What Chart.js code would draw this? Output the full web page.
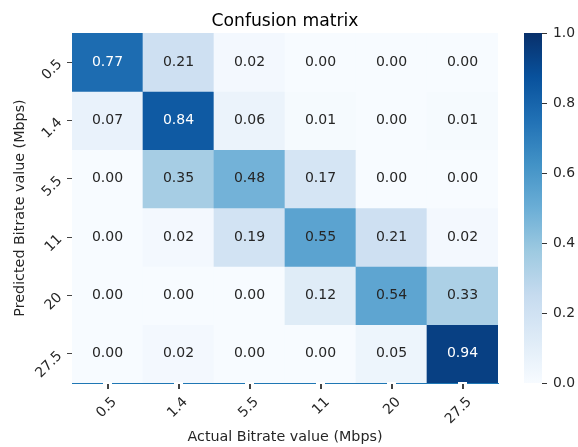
<!DOCTYPE html>
<html>
<head>
<meta charset="utf-8">
<script src="https://cdn.jsdelivr.net/npm/chart.js@4.4.1/dist/chart.umd.min.js"></script>
<style>
  html, body { margin: 0; padding: 0; background: #fff; }
  #wrap { width: 578px; height: 447px; }
</style>
</head>
<body>
<div id="wrap"><canvas id="cm"></canvas></div>
<script>
// labels (Mbps)
const actualLabels = ['0.5', '1.4', '5.5', '11', '20', '27.5'];
const predictedLabels = ['0.5', '1.4', '5.5', '11', '20', '27.5'];

// rows = predicted, columns = actual
const row05  = [0.77, 0.21, 0.02, 0.00, 0.00, 0.00];
const row14  = [0.07, 0.84, 0.06, 0.01, 0.00, 0.01];
const row55  = [0.00, 0.35, 0.48, 0.17, 0.00, 0.00];
const row11  = [0.00, 0.02, 0.19, 0.55, 0.21, 0.02];
const row20  = [0.00, 0.00, 0.00, 0.12, 0.54, 0.33];
const row275 = [0.00, 0.02, 0.00, 0.00, 0.05, 0.94];
const matrix = [row05, row14, row55, row11, row20, row275];

const colorbarTicks = [0, 0.2, 0.4, 0.6, 0.8, 1.0];

// matplotlib "Blues"
const blues = ['#f7fbff', '#deebf7', '#c6dbef', '#9ecae1', '#6baed6', '#4292c6', '#2171b5', '#08519c', '#08306b'];

function hexRgb(h) {
  return [parseInt(h.slice(1, 3), 16), parseInt(h.slice(3, 5), 16), parseInt(h.slice(5, 7), 16)];
}
function bluesRgb(v) {
  v = Math.max(0, Math.min(1, v));
  const p = v * (blues.length - 1);
  const i = Math.min(Math.floor(p), blues.length - 2);
  const t = p - i;
  const a = hexRgb(blues[i]), b = hexRgb(blues[i + 1]);
  return a.map((c, k) => Math.round(c + (b[k] - c) * t));
}
function bluesCss(v) {
  return 'rgb(' + bluesRgb(v).join(',') + ')';
}
// light cells get dark text (HLS lightness)
function textColor(v) {
  const c = bluesRgb(v);
  const l = (Math.max(...c) + Math.min(...c)) / 2 / 255;
  return l > 0.5 ? '#262626' : '#ffffff';
}

const datasets = matrix.map((row, r) => ({
  label: predictedLabels[r],
  data: row.map(() => [r, r + 1]),
  backgroundColor: row.map(v => bluesCss(v)),
  borderWidth: 0,
  grouped: false,
  barPercentage: 1,
  categoryPercentage: 1
}));

const FONT = 'DejaVu Sans';

const overlay = {
  id: 'overlay',
  afterDatasetsDraw(chart) {
    const ctx = chart.ctx;
    const x = chart.scales.x, y = chart.scales.y, cb = chart.scales.cb;
    const area = chart.chartArea;
    ctx.save();
    // cell annotations
    ctx.font = '14px "' + FONT + '"';
    ctx.textAlign = 'center';
    ctx.textBaseline = 'middle';
    matrix.forEach((row, r) => {
      row.forEach((v, c) => {
        ctx.fillStyle = textColor(v);
        ctx.fillText(v.toFixed(2), x.getPixelForValue(c), y.getPixelForValue(r + 0.5));
      });
    });
    // x tick marks (with the little gap in the spine)
    actualLabels.forEach((_, c) => {
      const px = Math.round(x.getPixelForValue(c));
      ctx.fillStyle = '#fff';
      ctx.fillRect(px - 5, area.bottom - 1, 9, 2.5);
      ctx.fillStyle = '#444';
      ctx.fillRect(px - 1, area.bottom + 1, 2, 5);
    });
    // colorbar
    const cbLeft = 524, cbRight = 542;
    const top = cb.getPixelForValue(1), bot = cb.getPixelForValue(0);
    const g = ctx.createLinearGradient(0, bot, 0, top);
    blues.forEach((c, i) => g.addColorStop(i / (blues.length - 1), c));
    ctx.fillStyle = g;
    ctx.fillRect(cbLeft, top, cbRight - cbLeft, bot - top);
    ctx.strokeStyle = '#333';
    ctx.lineWidth = 1;
    colorbarTicks.forEach(t => {
      const py = Math.round(cb.getPixelForValue(t)) + 0.5;
      ctx.beginPath();
      ctx.moveTo(cbRight, py);
      ctx.lineTo(cbRight + 5, py);
      ctx.stroke();
    });
    // title
    ctx.fillStyle = '#000';
    ctx.font = '17.2px "' + FONT + '"';
    ctx.textAlign = 'center';
    ctx.textBaseline = 'alphabetic';
    ctx.fillText('Confusion matrix', (area.left + area.right) / 2, 26);
    ctx.restore();
  }
};

new Chart(document.getElementById('cm'), {
  type: 'bar',
  data: { labels: actualLabels, datasets: datasets },
  plugins: [overlay],
  options: {
    responsive: true,
    maintainAspectRatio: false,
    animation: false,
    layout: { padding: { top: 33, left: 0, right: 0, bottom: 0 } },
    plugins: {
      legend: { display: false },
      tooltip: { enabled: false },
      title: { display: false }
    },
    scales: {
      x: {
        type: 'category',
        offset: true,
        grid: { display: false, drawTicks: true, tickLength: 6, offset: false },
        border: { display: true, color: '#1f77b4', width: 1 },
        ticks: { color: '#262626', font: { family: FONT, size: 13.9 }, minRotation: 45, maxRotation: 45, padding: 5, labelOffset: 7 },
        title: { display: true, text: 'Actual Bitrate value (Mbps)', color: '#262626', font: { family: FONT, size: 14.3 }, padding: { top: 0, bottom: 1 } },
        afterFit: s => { s.height = 64; }
      },
      y: {
        type: 'linear',
        min: 0,
        max: 6,
        reverse: true,
        afterBuildTicks: s => { s.ticks = predictedLabels.map((_, i) => ({ value: i + 0.5 })); },
        grid: { display: true, drawOnChartArea: false, drawTicks: true, tickLength: 5, color: '#444' },
        border: { display: true, color: '#1f77b4', width: 1 },
        ticks: { color: '#262626', font: { family: FONT, size: 13.9 }, minRotation: 45, maxRotation: 45, padding: 7,
          callback: (v, i) => predictedLabels[i] },
        title: { display: true, text: 'Predicted Bitrate value (Mbps)', color: '#262626', font: { family: FONT, size: 14.3 }, padding: { top: 12, bottom: 0 } },
        afterFit: s => { s.width = 72; }
      },
      cb: {
        type: 'linear',
        position: 'right',
        min: 0,
        max: 1,
        afterBuildTicks: s => { s.ticks = colorbarTicks.map(v => ({ value: v })); },
        grid: { display: false, drawTicks: true, tickLength: 53 },
        border: { display: false },
        ticks: { color: '#262626', font: { family: FONT, size: 13.9 }, padding: 2, callback: v => v.toFixed(1) },
        afterFit: s => { s.width = 80; }
      }
    }
  }
});
</script>
</body>
</html>
